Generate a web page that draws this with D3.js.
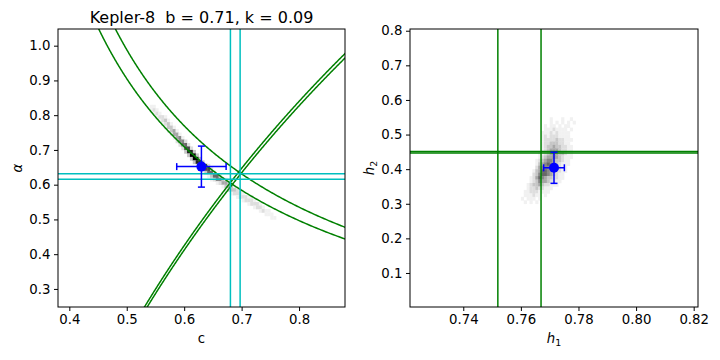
<!DOCTYPE html>
<html><head><meta charset="utf-8">
<script src="https://cdn.jsdelivr.net/npm/d3@7"></script>
<style>body{margin:0;background:#fff}svg{font-family:"DejaVu Sans",sans-serif}text{white-space:pre}</style>
</head><body><svg id="chart" width="720" height="360"></svg>
<script>
// ---------- data ----------
const titleText = "Kepler-8  b = 0.71, k = 0.09";
const leftXDomain = [0.3803, 0.88];
const leftYDomain = [0.248, 1.048];
const rightXDomain = [0.7215, 0.8215];
const rightYDomain = [0.0017, 0.805];
const leftXTicks = [0.4, 0.5, 0.6, 0.7, 0.8];
const leftYTicks = [0.3, 0.4, 0.5, 0.6, 0.7, 0.8, 0.9, 1.0];
const rightXTicks = [0.74, 0.76, 0.78, 0.80, 0.82];
const rightYTicks = [0.1, 0.2, 0.3, 0.4, 0.5, 0.6, 0.7, 0.8];
const h1Lines = [0.752, 0.767];
const h2Lines = [0.447, 0.451];
const cLines = [0.6805, 0.6974];
const alphaLines = [0.6155, 0.6316];
const cAlphaPoint = [0.630, 0.652];
const cAlphaErr = [0.043, 0.059];
const h1h2Point = [0.7715, 0.404];
const h1h2Err = [0.0036, 0.045];
// histogram rows: [row low edge (y), first bin low edge (x), intensities 0-9 per bin]
const leftBinW = 0.005, leftBinH = 0.01;
const leftHist = [
  [0.82, 0.540, "11"],
  [0.81, 0.540, "121"],
  [0.80, 0.545, "121"],
  [0.79, 0.550, "1221"],
  [0.78, 0.555, "1231"],
  [0.77, 0.560, "1231"],
  [0.76, 0.565, "1331"],
  [0.75, 0.570, "1341"],
  [0.74, 0.575, "1441"],
  [0.73, 0.580, "1451"],
  [0.72, 0.585, "2552"],
  [0.71, 0.590, "2662"],
  [0.70, 0.595, "2772"],
  [0.69, 0.600, "3883"],
  [0.68, 0.605, "3993"],
  [0.67, 0.610, "3993"],
  [0.66, 0.615, "3883"],
  [0.65, 0.620, "13772"],
  [0.64, 0.625, "13772"],
  [0.63, 0.630, "13662"],
  [0.62, 0.640, "13662"],
  [0.61, 0.645, "125531"],
  [0.60, 0.655, "124431"],
  [0.59, 0.665, "13431"],
  [0.58, 0.670, "123321"],
  [0.57, 0.680, "12221"],
  [0.56, 0.690, "122211"],
  [0.55, 0.700, "12221"],
  [0.54, 0.710, "12221"],
  [0.53, 0.720, "1221"],
  [0.52, 0.730, "1211"],
  [0.51, 0.740, "111"],
  [0.50, 0.750, "11"]
];
const rightBinW = 0.001, rightBinH = 0.01;
const rightHist = [
  [0.54, 0.769, "0100010010"],
  [0.53, 0.768, "00101010101"],
  [0.52, 0.768, "1011010110"],
  [0.51, 0.767, "01112111101"],
  [0.50, 0.767, "11121211110"],
  [0.49, 0.767, "1212221111"],
  [0.48, 0.767, "12222322111"],
  [0.47, 0.767, "1223332211"],
  [0.46, 0.767, "12334332211"],
  [0.45, 0.767, "12344432211"],
  [0.44, 0.766, "112345433211"],
  [0.43, 0.766, "123445432111"],
  [0.42, 0.765, "1234554332110"],
  [0.41, 0.765, "1345654321110"],
  [0.40, 0.765, "2455554321100"],
  [0.39, 0.764, "1346654322110"],
  [0.38, 0.764, "2356654321100"],
  [0.37, 0.763, "1246543322110"],
  [0.36, 0.763, "1235443221100"],
  [0.35, 0.762, "123343221110"],
  [0.34, 0.762, "12232211100"],
  [0.33, 0.761, "1122211110"],
  [0.32, 0.761, "111211010"],
  [0.31, 0.760, "10111010"],
  [0.30, 0.760, "010101"]
];

// ---------- drawing ----------
const svg = d3.select("#chart");
const L = {x0: 58, x1: 345, y0: 29, y1: 307};
const R = {x0: 410, x1: 698, y0: 29, y1: 307};
const lx = d3.scaleLinear().domain(leftXDomain).range([L.x0, L.x1]);
const ly = d3.scaleLinear().domain(leftYDomain).range([L.y1, L.y0]);
const rx = d3.scaleLinear().domain(rightXDomain).range([R.x0, R.x1]);
const ry = d3.scaleLinear().domain(rightYDomain).range([R.y1, R.y0]);

const defs = svg.append("defs");
[["clipL", L], ["clipR", R]].forEach(([id, b]) => {
  defs.append("clipPath").attr("id", id).append("rect")
    .attr("x", b.x0).attr("y", b.y0).attr("width", b.x1 - b.x0).attr("height", b.y1 - b.y0);
});

const GREEN = "#008000", CYAN = "#00bfbf", BLUE = "#0000ff";
const FS = 13.3;

function drawHist(g, rows, xs, ys, bw, bh) {
  const cells = [];
  rows.forEach(([yLow, xStart, s]) => {
    for (let i = 0; i < s.length; i++) {
      const v = +s[i];
      if (v > 0) cells.push({x: xStart + i * bw, y: yLow, v});
    }
  });
  g.selectAll("rect.cell").data(cells).enter().append("rect")
    .attr("class", "cell")
    .attr("x", d => xs(d.x)).attr("y", d => ys(d.y + bh))
    .attr("width", d => xs(d.x + bw) - xs(d.x) + 0.3)
    .attr("height", d => ys(d.y) - ys(d.y + bh) + 0.3)
    .attr("fill", d => d3.interpolateGreys(d.v / 9));
}

function drawErr(g, xs, ys, p, e) {
  const cx = xs(p[0]), cy = ys(p[1]);
  const cap = 3.5;
  const seg = (x1, y1, x2, y2) => g.append("line").attr("x1", x1).attr("y1", y1).attr("x2", x2).attr("y2", y2)
    .attr("stroke", BLUE).attr("stroke-width", 1.5);
  const xa = xs(p[0] - e[0]), xb = xs(p[0] + e[0]);
  const ya = ys(p[1] - e[1]), yb = ys(p[1] + e[1]);
  seg(xa, cy, xb, cy); seg(cx, ya, cx, yb);
  seg(xa, cy - cap, xa, cy + cap); seg(xb, cy - cap, xb, cy + cap);
  seg(cx - cap, ya, cx + cap, ya); seg(cx - cap, yb, cx + cap, yb);
  g.append("circle").attr("cx", cx).attr("cy", cy).attr("r", 5).attr("fill", BLUE);
}

function drawAxes(b, xs, ys, xt, yt, xfmt, yfmt) {
  const gx = svg.append("g").attr("transform", `translate(0,${b.y1})`)
    .call(d3.axisBottom(xs).tickValues(xt).tickFormat(d3.format(xfmt)).tickSizeOuter(0).tickSize(4).tickPadding(3.5));
  const gy = svg.append("g").attr("transform", `translate(${b.x0},0)`)
    .call(d3.axisLeft(ys).tickValues(yt).tickFormat(d3.format(yfmt)).tickSizeOuter(0).tickSize(4).tickPadding(3.5));
  [gx, gy].forEach(g => {
    g.select(".domain").remove();
    g.selectAll("text").attr("font-size", FS).attr("fill", "#000").attr("font-family", "DejaVu Sans");
    g.selectAll("line").attr("stroke", "#000").attr("stroke-width", 1);
  });
  svg.append("rect").attr("x", b.x0).attr("y", b.y0).attr("width", b.x1 - b.x0).attr("height", b.y1 - b.y0)
    .attr("fill", "none").attr("stroke", "#000").attr("stroke-width", 1);
}

// Left panel
const gL = svg.append("g").attr("clip-path", "url(#clipL)");
drawHist(gL, leftHist, lx, ly, leftBinW, leftBinH);
const alphaSamples = d3.range(leftYDomain[0] - 0.01, leftYDomain[1] + 0.01, 0.002);
const line = d3.line().x(d => lx(d[0])).y(d => ly(d[1]));
h1Lines.forEach(h1 => {
  const pts = alphaSamples.map(a => [(1 - h1) / (1 - Math.pow(2, -a)), a]);
  gL.append("path").attr("d", line(pts)).attr("fill", "none").attr("stroke", GREEN).attr("stroke-width", 1.5);
});
h2Lines.forEach(h2 => {
  const pts = alphaSamples.map(a => [h2 * Math.pow(2, a), a]);
  gL.append("path").attr("d", line(pts)).attr("fill", "none").attr("stroke", GREEN).attr("stroke-width", 1.5);
});
cLines.forEach(c => gL.append("line").attr("x1", lx(c)).attr("x2", lx(c)).attr("y1", L.y0).attr("y2", L.y1)
  .attr("stroke", CYAN).attr("stroke-width", 1.5));
alphaLines.forEach(a => gL.append("line").attr("x1", L.x0).attr("x2", L.x1).attr("y1", ly(a)).attr("y2", ly(a))
  .attr("stroke", CYAN).attr("stroke-width", 1.5));
drawErr(svg.append("g"), lx, ly, cAlphaPoint, cAlphaErr);
drawAxes(L, lx, ly, leftXTicks, leftYTicks, ".1f", ".1f");

// Right panel
const gR = svg.append("g").attr("clip-path", "url(#clipR)");
drawHist(gR, rightHist, rx, ry, rightBinW, rightBinH);
h1Lines.forEach(h1 => gR.append("line").attr("x1", rx(h1)).attr("x2", rx(h1)).attr("y1", R.y0).attr("y2", R.y1)
  .attr("stroke", GREEN).attr("stroke-width", 1.5));
h2Lines.forEach(h2 => gR.append("line").attr("x1", R.x0).attr("x2", R.x1).attr("y1", ry(h2)).attr("y2", ry(h2))
  .attr("stroke", GREEN).attr("stroke-width", 1.5));
drawErr(svg.append("g"), rx, ry, h1h2Point, h1h2Err);
drawAxes(R, rx, ry, rightXTicks, rightYTicks, ".2f", ".1f");

// Titles and labels
svg.append("text").attr("x", (L.x0 + L.x1) / 2).attr("y", 22.5).attr("text-anchor", "middle")
  .attr("font-size", 16).text(titleText);
svg.append("text").attr("x", (L.x0 + L.x1) / 2).attr("y", 343).attr("text-anchor", "middle")
  .attr("font-size", FS).text("c");
svg.append("text").attr("transform", `translate(22,${(L.y0 + L.y1) / 2}) rotate(-90)`).attr("text-anchor", "middle")
  .attr("font-size", FS).attr("font-style", "italic").text("α");
const h1t = svg.append("text").attr("x", (R.x0 + R.x1) / 2).attr("y", 343).attr("text-anchor", "middle").attr("font-size", FS);
h1t.append("tspan").attr("font-style", "italic").text("h");
h1t.append("tspan").attr("font-size", 9.5).attr("dy", 2.5).text("1");
const h2t = svg.append("text").attr("transform", `translate(374,${(R.y0 + R.y1) / 2}) rotate(-90)`).attr("text-anchor", "middle").attr("font-size", FS);
h2t.append("tspan").attr("font-style", "italic").text("h");
h2t.append("tspan").attr("font-size", 9.5).attr("dy", 2.5).text("2");
</script></body></html>
